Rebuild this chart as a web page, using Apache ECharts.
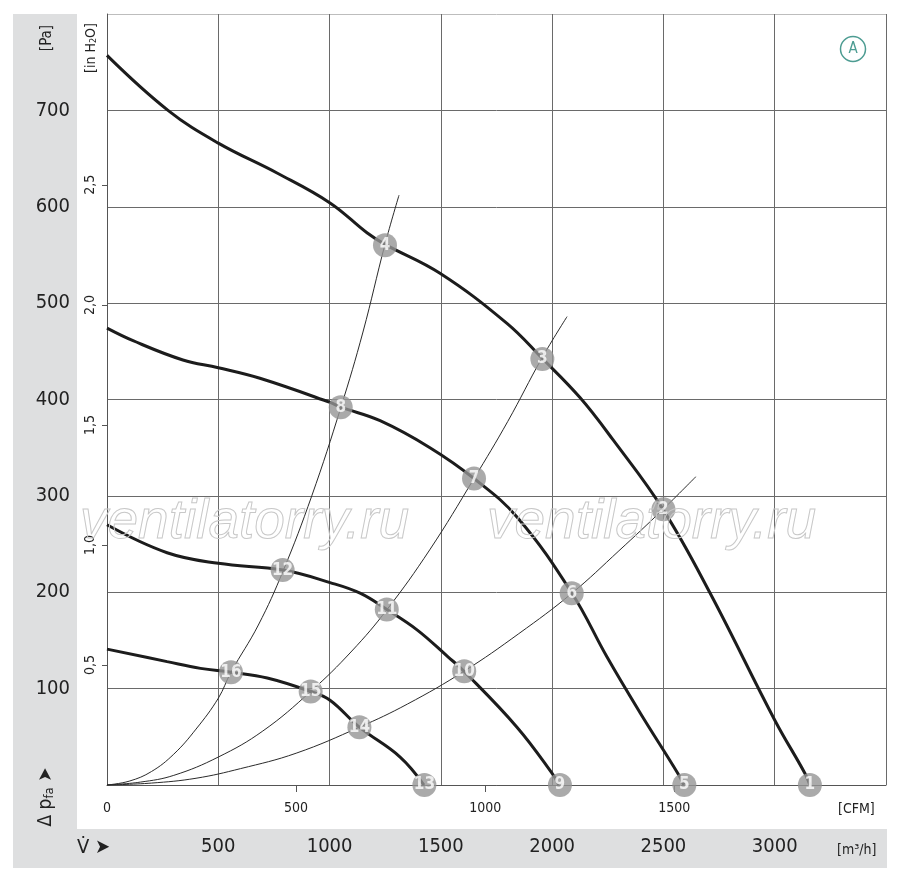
<!DOCTYPE html>
<html>
<head>
<meta charset="utf-8">
<script src="https://cdn.jsdelivr.net/npm/echarts@6/dist/echarts.min.js"></script>
<style>
html,body{margin:0;padding:0;background:#fff;}
#chart{width:900px;height:880px;}
</style>
</head>
<body>
<div id="chart"></div>
<script>
// ---- data (x: m3/h, y: Pa) ----
const flowTicks = [0, 500, 1000, 1500, 2000, 2500, 3000, 3500];
const cfmTicks = [0, 500, 1000, 1500];
const inh2oTicks = [0.5, 1.0, 1.5, 2.0, 2.5];

const curve1 = [[0,757],[274,700],[500,666],[764,635],[1002,604],[1168,573],[1249,561],[1496,531],[1797,479],[1954,443],[2125,402],[2274,358],[2498,286],[2710,199],[3001,67],[3136,12],[3158,0]];
const curve2 = [[0,474],[117,461],[341,441],[500,433],[687,422],[1002,397],[1051,392],[1227,378],[1451,350],[1649,318],[1842,278],[2089,199],[2246,133],[2395,75],[2565,12],[2592,0]];
const curve3 = [[0,270],[270,241],[500,230],[791,223],[1002,210],[1137,199],[1258,182],[1393,161],[1532,133],[1604,118],[1842,60],[2000,12],[2030,0]];
const curve4 = [[0,141],[270,128],[420,121],[557,117],[720,111],[915,97],[1002,88],[1134,60],[1317,29],[1424,0]];

const system1 = [[0,0],[100,4],[200,14],[300,32],[400,58],[500,90],[557,117],[680,166],[791,222],[920,300],[1051,392],[1150,470],[1249,561],[1312,612]];
const system2 = [[0,0],[150,3],[300,10],[500,29],[700,56],[915,97],[1100,139],[1258,182],[1450,244],[1649,318],[1800,377],[1954,443],[2067,486]];
const system3 = [[0,0],[200,2],[400,7],[600,17],[850,33],[1134,60],[1350,84],[1604,118],[1850,157],[2089,199],[2300,243],[2498,286],[2646,320]];

const pointLabels = ['1','2','3','4','5','6','7','8','9','10','11','12','13','14','15','16'];
const pointFlow   = [3158,2500,1956,1249,2594,2088,1649,1050,2035,1605,1257,789,1426,1134,915,557];
const pointPress  = [0,286,442,560,0,199,318,392,0,118,182,223,0,60,97,117];

const M3H_PER_CFM = 1.699;
const PA_PER_INH2O = 249.089;

const FONT = "'Liberation Sans Narrow','DejaVu Sans Condensed',sans-serif";
const chart = echarts.init(document.getElementById('chart'), null, {renderer:'canvas'});

const thick = (d) => ({type:'line', data:d, xAxisIndex:0, yAxisIndex:0, smooth:0.4, symbol:'none', z:3,
  lineStyle:{width:3, color:'#1c1c1c'}, silent:true, animation:false});
const thin = (d) => ({type:'line', data:d, xAxisIndex:0, yAxisIndex:0, smooth:0.4, symbol:'none', z:2,
  lineStyle:{width:1, color:'#2a2a2a'}, silent:true, animation:false});

const markerData = pointLabels.map((l,i)=>({value:[pointFlow[i], pointPress[i]], name:l}));

const gridLine = '#6a6a6a';
const yLineColors = [gridLine,gridLine,gridLine,gridLine,gridLine,gridLine,gridLine,gridLine,'#bdbdbd'];

chart.setOption({
  animation:false,
  backgroundColor:'#ffffff',
  grid:{left:107, top:14, right:14, bottom:95, show:false},
  xAxis:[
    {type:'value', min:flowTicks[0], max:flowTicks[flowTicks.length-1], interval:500, position:'bottom',
     axisLine:{show:true, lineStyle:{color:'#555', width:1}},
     axisTick:{show:false},
     splitLine:{show:true, lineStyle:{color:gridLine, width:1}},
     axisLabel:{show:true, margin:52, fontSize:20, fontFamily:FONT, color:'#222',
       formatter:(v)=> (v===0||v===3500)?'':String(v)}},
    {type:'value', min:0, max:3500/M3H_PER_CFM, position:'bottom', offset:0,
     axisLine:{show:false},
     axisTick:{show:true, length:7, inside:false, customValues:[500,1000,1500], lineStyle:{color:'#555'}},
     splitLine:{show:false},
     axisLabel:{show:true, margin:16, fontSize:14, fontFamily:FONT, color:'#222', customValues:cfmTicks,
       formatter:(v)=>String(Math.round(v))}}
  ],
  yAxis:[
    {type:'value', min:0, max:800, interval:100, position:'left',
     axisLine:{show:true, lineStyle:{color:'#555', width:1}},
     axisTick:{show:false},
     splitLine:{show:true, lineStyle:{color:yLineColors, width:1}},
     axisLabel:{show:true, margin:37, fontSize:20, fontFamily:FONT, color:'#222',
       formatter:(v)=> (v===0||v===800)?'':String(v)}},
    {type:'value', min:0, max:800/PA_PER_INH2O, position:'left', offset:0, alignTicks:false,
     axisLine:{show:false},
     axisTick:{show:true, length:5, inside:false, customValues:inh2oTicks, lineStyle:{color:'#555'}},
     splitLine:{show:false},
     axisLabel:{show:true, margin:10, rotate:90, fontSize:14, fontFamily:FONT, color:'#222',
       customValues:inh2oTicks, formatter:(v)=> v.toFixed(1).replace('.',',')}}
  ],
  series:[
    thin(system1), thin(system2), thin(system3),
    thick(curve1), thick(curve2), thick(curve3), thick(curve4),
    {type:'scatter', data:markerData, xAxisIndex:0, yAxisIndex:0, symbol:'circle', symbolSize:24, z:5, clip:false,
     itemStyle:{color:'#959595'}, silent:true,
     label:{show:true, position:'inside', formatter:(p)=>p.name, color:'#fff', fontSize:17, fontWeight:'bold', fontFamily:FONT}}
  ],
  graphic:[
    {type:'rect', z:-10, silent:true, shape:{x:13, y:14, width:64, height:854}, style:{fill:'#dedfe0'}},
    {type:'rect', z:-10, silent:true, shape:{x:77, y:829, width:810, height:39}, style:{fill:'#dedfe0'}},
    {type:'text', x:47, y:38, rotation:Math.PI/2, z:10,
     style:{text:'[Pa]', fontSize:15, fontFamily:FONT, fill:'#222', align:'center', verticalAlign:'middle'}},
    {type:'text', x:91, y:48, rotation:Math.PI/2, z:10,
     style:{text:'{a|[in H}{s|2}{a|O]}', align:'center', verticalAlign:'middle',
       rich:{a:{fontSize:14, fontFamily:FONT, fill:'#222', verticalAlign:'middle'},
             s:{fontSize:9, fontFamily:FONT, fill:'#222', padding:[6,0,0,0]}}}},
    {type:'text', x:46, y:797, rotation:Math.PI/2, z:10,
     style:{text:'{a|Δ p}{s|fa}{a| ➤}', align:'center', verticalAlign:'middle',
       rich:{a:{fontSize:19, fontFamily:FONT, fill:'#222'},
             s:{fontSize:13, fontFamily:FONT, fill:'#222', padding:[8,0,0,0]}}}},
    {type:'text', x:77, y:848, z:10,
     style:{text:'V̇ ➤', fontSize:20, fontFamily:FONT, fill:'#222', align:'left', verticalAlign:'middle'}},
    {type:'text', x:837, y:850, z:10,
     style:{text:'[m³/h]', fontSize:14, fontFamily:FONT, fill:'#222', align:'left', verticalAlign:'middle'}},
    {type:'text', x:838, y:809, z:10,
     style:{text:'[CFM]', fontSize:14, fontFamily:FONT, fill:'#222', align:'left', verticalAlign:'middle'}},
    {type:'circle', z:10, shape:{cx:853, cy:49, r:12.5}, style:{fill:'none', stroke:'#4d9c92', lineWidth:1.5}},
    {type:'text', x:853, y:49, z:10,
     style:{text:'A', fontSize:15, fontFamily:FONT, fill:'#4d9c92', align:'center', verticalAlign:'middle'}},
    {type:'text', x:80, y:523, z:9,
     style:{text:'ventilatorry.ru', fontSize:55, fontStyle:'italic', fontFamily:"'Liberation Sans',sans-serif",
       fill:'rgba(255,255,255,0)', stroke:'#c8c8c8', lineWidth:1, align:'left', verticalAlign:'middle'}},
    {type:'text', x:487, y:523, z:9,
     style:{text:'ventilatorry.ru', fontSize:55, fontStyle:'italic', fontFamily:"'Liberation Sans',sans-serif",
       fill:'rgba(255,255,255,0)', stroke:'#c8c8c8', lineWidth:1, align:'left', verticalAlign:'middle'}}
  ]
});
</script>
</body>
</html>
